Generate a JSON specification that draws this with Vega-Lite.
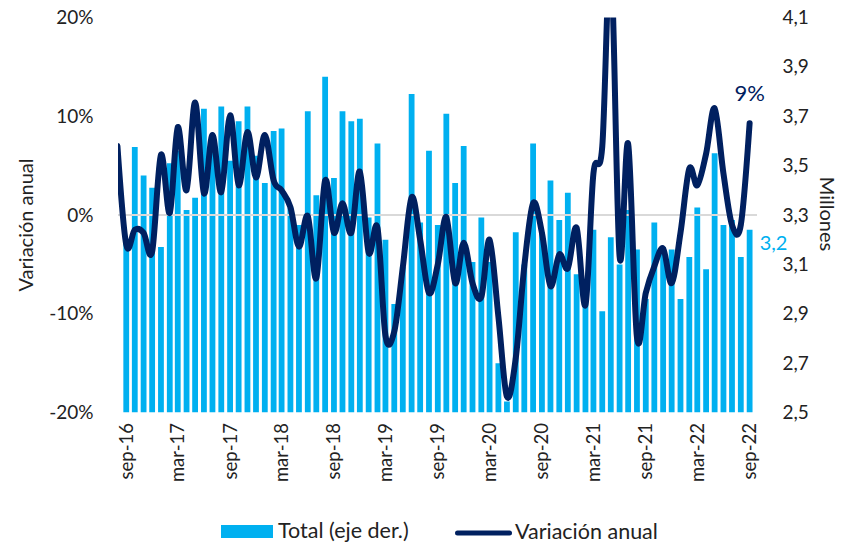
{
  "$schema": "https://vega.github.io/schema/vega-lite/v6.json",
  "width": 639,
  "height": 395,
  "autosize": {"type": "none"},
  "padding": {"left": 118, "top": 17.5, "right": 84, "bottom": 132.5},
  "background": "white",
  "config": {
    "font": "Lato",
    "view": {"stroke": null},
    "locale": {
      "number": {"decimal": ",", "thousands": ".", "grouping": [3], "currency": ["", " €"], "minus": "-"},
      "time": {
        "dateTime": "%A, %e de %B de %Y, %X",
        "date": "%d/%m/%Y",
        "time": "%H:%M:%S",
        "periods": ["AM", "PM"],
        "days": ["domingo", "lunes", "martes", "miércoles", "jueves", "viernes", "sábado"],
        "shortDays": ["dom", "lun", "mar", "mié", "jue", "vie", "sáb"],
        "months": ["enero", "febrero", "marzo", "abril", "mayo", "junio", "julio", "agosto", "septiembre", "octubre", "noviembre", "diciembre"],
        "shortMonths": ["ene", "feb", "mar", "abr", "may", "jun", "jul", "ago", "sep", "oct", "nov", "dic"]
      }
    },
    "axis": {
      "labelFont": "Lato",
      "labelFontSize": 19,
      "labelColor": "#222222",
      "titleFont": "Lato",
      "titleFontSize": 20,
      "titleFontWeight": "normal",
      "titleColor": "#222222",
      "ticks": false,
      "domain": false,
      "grid": false
    },
    "legend": {
      "labelFont": "Lato",
      "labelFontSize": 21.5,
      "labelColor": "#222222",
      "padding": 0
    }
  },
  "data": {
    "values": [
      {"fecha": "2016-08-01", "total": null, "variacion": 0.07},
      {"fecha": "2016-09-01", "total": 3.20, "variacion": -0.030},
      {"fecha": "2016-10-01", "total": 3.575, "variacion": -0.015},
      {"fecha": "2016-11-01", "total": 3.46, "variacion": -0.018},
      {"fecha": "2016-12-01", "total": 3.41, "variacion": -0.037},
      {"fecha": "2017-01-01", "total": 3.17, "variacion": 0.061},
      {"fecha": "2017-02-01", "total": 3.51, "variacion": 0.002},
      {"fecha": "2017-03-01", "total": 3.56, "variacion": 0.089},
      {"fecha": "2017-04-01", "total": 3.32, "variacion": 0.025},
      {"fecha": "2017-05-01", "total": 3.37, "variacion": 0.114},
      {"fecha": "2017-06-01", "total": 3.73, "variacion": 0.022},
      {"fecha": "2017-07-01", "total": 3.61, "variacion": 0.081},
      {"fecha": "2017-08-01", "total": 3.74, "variacion": 0.023},
      {"fecha": "2017-09-01", "total": 3.52, "variacion": 0.101},
      {"fecha": "2017-10-01", "total": 3.68, "variacion": 0.030},
      {"fecha": "2017-11-01", "total": 3.74, "variacion": 0.084},
      {"fecha": "2017-12-01", "total": 3.54, "variacion": 0.038},
      {"fecha": "2018-01-01", "total": 3.43, "variacion": 0.081},
      {"fecha": "2018-02-01", "total": 3.64, "variacion": 0.035},
      {"fecha": "2018-03-01", "total": 3.65, "variacion": 0.025},
      {"fecha": "2018-04-01", "total": 3.33, "variacion": 0.008},
      {"fecha": "2018-05-01", "total": 3.26, "variacion": -0.032},
      {"fecha": "2018-06-01", "total": 3.72, "variacion": -0.001},
      {"fecha": "2018-07-01", "total": 3.38, "variacion": -0.064},
      {"fecha": "2018-08-01", "total": 3.86, "variacion": 0.035},
      {"fecha": "2018-09-01", "total": 3.45, "variacion": -0.018},
      {"fecha": "2018-10-01", "total": 3.72, "variacion": 0.012},
      {"fecha": "2018-11-01", "total": 3.68, "variacion": -0.018},
      {"fecha": "2018-12-01", "total": 3.69, "variacion": 0.044},
      {"fecha": "2019-01-01", "total": 3.29, "variacion": -0.038},
      {"fecha": "2019-02-01", "total": 3.59, "variacion": -0.013},
      {"fecha": "2019-03-01", "total": 3.20, "variacion": -0.122},
      {"fecha": "2019-04-01", "total": 2.94, "variacion": -0.118},
      {"fecha": "2019-05-01", "total": 3.09, "variacion": -0.053},
      {"fecha": "2019-06-01", "total": 3.79, "variacion": 0.018},
      {"fecha": "2019-07-01", "total": 3.27, "variacion": -0.025},
      {"fecha": "2019-08-01", "total": 3.56, "variacion": -0.079},
      {"fecha": "2019-09-01", "total": 3.26, "variacion": -0.050},
      {"fecha": "2019-10-01", "total": 3.71, "variacion": -0.002},
      {"fecha": "2019-11-01", "total": 3.43, "variacion": -0.069},
      {"fecha": "2019-12-01", "total": 3.58, "variacion": -0.028},
      {"fecha": "2020-01-01", "total": 3.11, "variacion": -0.069},
      {"fecha": "2020-02-01", "total": 3.29, "variacion": -0.083},
      {"fecha": "2020-03-01", "total": 3.11, "variacion": -0.025},
      {"fecha": "2020-04-01", "total": 2.70, "variacion": -0.103},
      {"fecha": "2020-05-01", "total": 2.545, "variacion": -0.184},
      {"fecha": "2020-06-01", "total": 3.23, "variacion": -0.145},
      {"fecha": "2020-07-01", "total": 3.10, "variacion": -0.052},
      {"fecha": "2020-08-01", "total": 3.59, "variacion": 0.012},
      {"fecha": "2020-09-01", "total": 3.23, "variacion": -0.018},
      {"fecha": "2020-10-01", "total": 3.44, "variacion": -0.072},
      {"fecha": "2020-11-01", "total": 3.28, "variacion": -0.040},
      {"fecha": "2020-12-01", "total": 3.39, "variacion": -0.054},
      {"fecha": "2021-01-01", "total": 3.06, "variacion": -0.013},
      {"fecha": "2021-02-01", "total": 3.00, "variacion": -0.091},
      {"fecha": "2021-03-01", "total": 3.24, "variacion": 0.042},
      {"fecha": "2021-04-01", "total": 2.91, "variacion": 0.069},
      {"fecha": "2021-05-01", "total": 3.21, "variacion": 0.26},
      {"fecha": "2021-06-01", "total": 3.10, "variacion": -0.042},
      {"fecha": "2021-07-01", "total": 3.32, "variacion": 0.072},
      {"fecha": "2021-08-01", "total": 3.16, "variacion": -0.124},
      {"fecha": "2021-09-01", "total": 2.96, "variacion": -0.079},
      {"fecha": "2021-10-01", "total": 3.27, "variacion": -0.052},
      {"fecha": "2021-11-01", "total": 3.17, "variacion": -0.034},
      {"fecha": "2021-12-01", "total": 3.16, "variacion": -0.069},
      {"fecha": "2022-01-01", "total": 2.96, "variacion": -0.018},
      {"fecha": "2022-02-01", "total": 3.13, "variacion": 0.047},
      {"fecha": "2022-03-01", "total": 3.33, "variacion": 0.030},
      {"fecha": "2022-04-01", "total": 3.08, "variacion": 0.062},
      {"fecha": "2022-05-01", "total": 3.55, "variacion": 0.108},
      {"fecha": "2022-06-01", "total": 3.26, "variacion": 0.042},
      {"fecha": "2022-07-01", "total": 3.28, "variacion": -0.010},
      {"fecha": "2022-08-01", "total": 3.13, "variacion": -0.010},
      {"fecha": "2022-09-01", "total": 3.24, "variacion": 0.093}
    ]
  },
  "layer": [
    {
      "mark": {"type": "bar", "width": 5.8, "clip": true},
      "encoding": {
        "x": {
          "field": "fecha",
          "type": "temporal",
          "scale": {
            "type": "utc",
            "domain": [
              {"year": 2016, "month": 8, "date": 20, "hours": 14, "utc": true},
              {"year": 2022, "month": 9, "date": 9, "hours": 8, "utc": true}
            ]
          },
          "axis": {
            "title": null,
            "format": "%b-%y",
            "labelAngle": 270,
            "labelAlign": "right",
            "labelBaseline": "middle",
            "labelPadding": 10,
            "labelFontSize": 18.5,
            "values": [
              {"year": 2016, "month": 9, "date": 1, "utc": true},
              {"year": 2017, "month": 3, "date": 1, "utc": true},
              {"year": 2017, "month": 9, "date": 1, "utc": true},
              {"year": 2018, "month": 3, "date": 1, "utc": true},
              {"year": 2018, "month": 9, "date": 1, "utc": true},
              {"year": 2019, "month": 3, "date": 1, "utc": true},
              {"year": 2019, "month": 9, "date": 1, "utc": true},
              {"year": 2020, "month": 3, "date": 1, "utc": true},
              {"year": 2020, "month": 9, "date": 1, "utc": true},
              {"year": 2021, "month": 3, "date": 1, "utc": true},
              {"year": 2021, "month": 9, "date": 1, "utc": true},
              {"year": 2022, "month": 3, "date": 1, "utc": true},
              {"year": 2022, "month": 9, "date": 1, "utc": true}
            ]
          }
        },
        "y": {
          "field": "total",
          "type": "quantitative",
          "scale": {"domain": [2.5, 4.1], "zero": false},
          "axis": {
            "orient": "right",
            "values": [2.5, 2.7, 2.9, 3.1, 3.3, 3.5, 3.7, 3.9, 4.1],
            "format": ".1f",
            "labelPadding": 25,
            "title": "Millones",
            "titleAngle": 90,
            "titleX": 68,
            "titleY": 196,
            "titleAlign": "center",
            "titleBaseline": "middle"
          }
        },
        "y2": {"datum": 2.5},
        "fill": {
          "datum": "Total (eje der.)",
          "type": "nominal",
          "scale": {"range": ["#00B0F0"]},
          "legend": {
            "orient": "none",
            "legendX": 103,
            "legendY": 488,
            "title": null,
            "symbolType": "M-1,-0.25H1V0.25H-1Z",
            "symbolSize": 2704,
            "symbolStrokeWidth": 0,
            "labelOffset": 5
          }
        }
      }
    },
    {
      "mark": {"type": "rule", "color": "#D9D9D9", "strokeWidth": 2},
      "encoding": {
        "y": {"datum": 0, "type": "quantitative", "scale": {"domain": [-0.2, 0.2]}, "axis": null}
      }
    },
    {
      "mark": {"type": "line", "interpolate": "cardinal", "strokeWidth": 6, "strokeCap": "round", "strokeJoin": "round", "clip": true},
      "encoding": {
        "x": {"field": "fecha", "type": "temporal"},
        "y": {
          "field": "variacion",
          "type": "quantitative",
          "scale": {"domain": [-0.2, 0.2]},
          "axis": {
            "orient": "left",
            "values": [-0.2, -0.1, 0, 0.1, 0.2],
            "format": ".0%",
            "labelPadding": 25,
            "title": "Variación anual",
            "titleAngle": 270,
            "titleX": -92,
            "titleY": 207,
            "titleAlign": "center",
            "titleBaseline": "middle"
          }
        },
        "stroke": {
          "datum": "Variación anual",
          "type": "nominal",
          "scale": {"range": ["#002060"]},
          "legend": {
            "orient": "none",
            "legendX": 337,
            "legendY": 487,
            "title": null,
            "symbolType": "stroke",
            "symbolSize": 2704,
            "symbolStrokeWidth": 5,
            "labelOffset": 3,
            "encode": {"symbols": {"update": {"strokeCap": {"value": "round"}}}}
          }
        }
      }
    },
    {
      "transform": [{"filter": "toDate(datum.fecha) > datetime(2022, 7, 15)"}],
      "mark": {"type": "text", "fontSize": 22, "color": "#002060", "dy": -29, "align": "center"},
      "encoding": {
        "x": {"field": "fecha", "type": "temporal"},
        "y": {"field": "variacion", "type": "quantitative", "scale": {"domain": [-0.2, 0.2]}, "axis": null},
        "text": {"field": "variacion", "type": "quantitative", "format": ".0%"}
      }
    },
    {
      "transform": [{"filter": "toDate(datum.fecha) > datetime(2022, 7, 15)"}],
      "mark": {"type": "text", "fontSize": 20, "color": "#00B0F0", "dx": 10, "dy": 14, "align": "left"},
      "encoding": {
        "x": {"field": "fecha", "type": "temporal"},
        "y": {"field": "total", "type": "quantitative", "scale": {"domain": [2.5, 4.1], "zero": false}, "axis": null},
        "text": {"field": "total", "type": "quantitative", "format": ".1f"}
      }
    }
  ],
  "resolve": {"scale": {"y": "independent"}}
}
